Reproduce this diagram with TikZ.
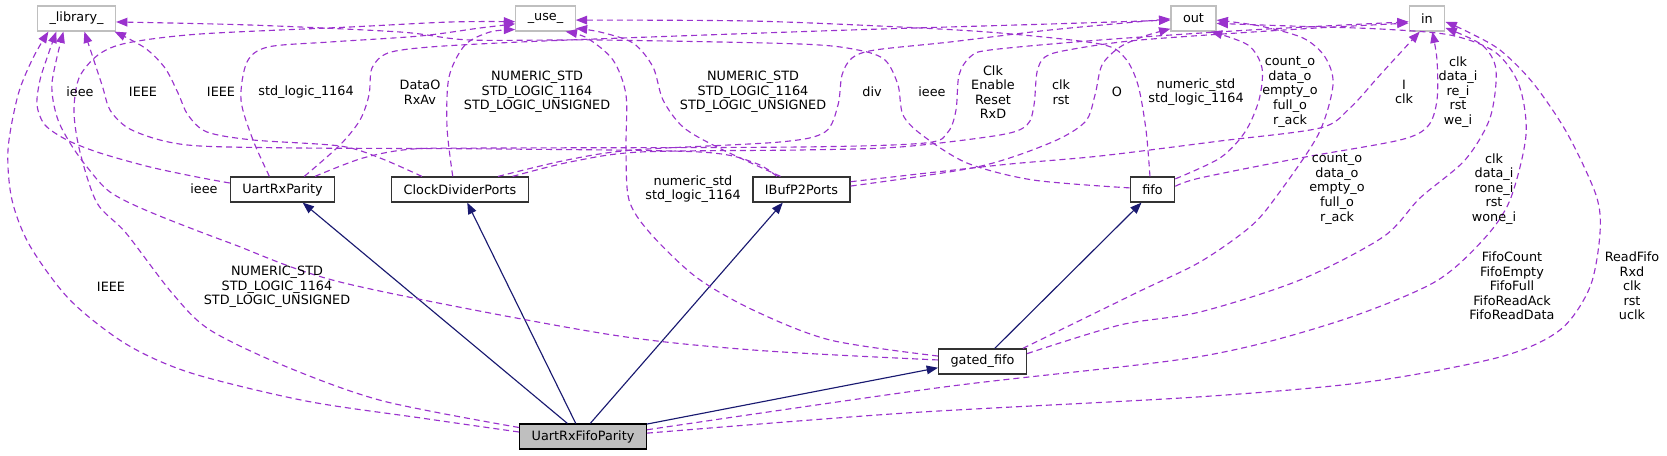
\documentclass[tikz,border=0pt]{standalone}
\usepackage{fontspec}
\setmainfont{DejaVu Sans}
\usetikzlibrary{arrows.meta}
\definecolor{orchid}{HTML}{9A32CD}
\definecolor{navyline}{HTML}{191970}
\definecolor{boxgray}{HTML}{BFBFBF}
\begin{document}
\begin{tikzpicture}[x = 0.75pt, y = -0.75pt,
  every node/.style = {font = \fontsize{9.6}{10.9}\selectfont},
  extbox/.style = {draw = boxgray, line width = 0.9pt, fill = white, minimum height = 18.75pt, inner xsep = 9pt, inner ysep = 0pt},
  classbox/.style = {draw = black!80, line width = 0.9pt, fill = white, minimum height = 18.75pt, inner xsep = 9pt, inner ysep = 0pt},
  lbl/.style = {align = center, inner sep = 0pt},
  dep/.style = {orchid, dash pattern = on 4.5pt off 3pt, line width = 0.85pt, -{Triangle[length = 8.5pt, width = 6.5pt]}},
  inh/.style = {navyline, line width = 0.85pt, -{Triangle[length = 8.5pt, width = 6.5pt]}}]
\useasboundingbox (0,0) rectangle (1667,456);
\node [extbox] (lib) at (76.5,18.5) {\_library\_};
\node [extbox] (use) at (545.5,18.5) {\_use\_};
\node [extbox] (outp) at (1193.5,18.5) {out};
\node [extbox] (inp) at (1427,18.5) {in};
\node [classbox] (urp) at (282.5,189.5) {UartRxParity};
\node [classbox] (cdp) at (460,189.5) {ClockDividerPorts};
\node [classbox] (ibuf) at (801.5,189.5) {IBufP2Ports};
\node [classbox] (fifo) at (1152.5,189.5) {fifo};
\node [classbox] (gfifo) at (982.5,361.5) {gated\_fifo};
\node [classbox, fill = boxgray, draw = black] (ufp) at (583,436.5) {UartRxFifoParity};
\draw [inh] (ufp.140) -- (urp.327);
\draw [inh] (ufp.119) -- (cdp.299);
\draw [inh] (ufp.61) -- (ibuf.215);
\draw [inh] (ufp.11) -- (gfifo.188);
\draw [inh] (gfifo.47) -- (fifo.230);
\draw [dep] plot [smooth] coordinates {(ufp.176) (421,418) (306,401) (191,373) (126,344) (70,300) (30,246) (12,200) (8,150) (18,95) (33,58) (lib.205)};
\draw [dep] plot [smooth] coordinates {(ufp.172) (383,401) (287,367) (210,330) (172,293) (126,233) (97,203) (80,152) (74,112) (79,78) (98,55) (127,43) (200,34) (350,27) (450,22) (use.186)};
\draw [dep] plot [smooth] coordinates {(gfifo.178) (753,350) (600,333) (344,283) (230,243) (150,212) (110,192) (87,167) (70,143) (57,117) (52,83) (lib.225)};
\draw [dep] plot [smooth] coordinates {(urp.173) (197,177) (150,167) (100,153) (67,140) (45,125) (37,105) (40,80) (48,55) (lib.213)};
\draw [dep] plot [smooth] coordinates {(cdp.161) (380,158) (340,146) (253,140) (207,132) (188,115) (178,93) (165,68) (145,48) (lib.341)};
\draw [dep] plot [smooth] coordinates {(ibuf.152) (755,163) (700,152) (500,149) (300,148) (200,146) (160,140) (128,128) (110,110) (102,85) (lib.301)};
\draw [dep] plot [smooth] coordinates {(fifo.176) (1033,180) (967,163) (922,135) (903,115) (898,85) (885,60) (858,50) (800,44) (600,40) (470,40) (400,32) (250,25) (lib.355)};
\draw [dep] plot [smooth] coordinates {(urp.135) (253,140) (241,100) (247,62) (268,47) (330,42) (420,36) (480,28) (use.190)};
\draw [dep] plot [smooth] coordinates {(cdp.119) (447,127) (449,77) (465,45) (490,32) (use.200)};
\draw [dep] plot [smooth] coordinates {(ibuf.148) (717,147) (683,127) (663,100) (653,67) (633,43) (600,32) (use.342)};
\draw [dep] plot [smooth] coordinates {(gfifo.173) (830,340) (753,310) (696,277) (650,233) (629,200) (626,150) (626,95) (613,60) (587,38) (use.327)};
\draw [dep] plot [smooth] coordinates {(fifo.101) (1146,130) (1138,85) (1125,58) (1100,44) (1000,33) (900,27) (750,21) (use.357)};
\draw [dep] plot [smooth] coordinates {(urp.31) (340,145) (360,120) (369,95) (372,68) (388,53) (430,47) (520,42) (650,37) (850,30) (1050,24) (outp.184)};
\draw [dep] plot [smooth] coordinates {(cdp.19) (567,160) (633,150) (780,142) (825,132) (838,105) (842,75) (852,58) (875,50) (950,42) (1050,30) (outp.181)};
\draw [dep] plot [smooth] coordinates {(ibuf.4) (977,167) (1050,143) (1085,122) (1095,95) (1102,65) (1120,47) (1145,36) (outp.204)};
\draw [dep] plot [smooth] coordinates {(fifo.25) (1220,158) (1245,132) (1259,100) (1262,68) (1248,45) (outp.323)};
\draw [dep] plot [smooth] coordinates {(gfifo.18) (1136,293) (1200,262) (1250,227) (1276,197) (1318,135) (1333,85) (1325,57) (1303,38) (1260,26) (outp.356)};
\draw [dep] plot [smooth] coordinates {(ufp.6) (944,387) (1197,357) (1333,323) (1433,283) (1483,240) (1510,200) (1526,135) (1519,85) (1495,52) (1450,35) (1380,29) (1290,26) (outp.348)};
\draw [dep] plot [smooth] coordinates {(urp.22) (363,158) (413,149) (500,148) (800,147) (925,143) (948,132) (956,110) (959,75) (970,57) (990,50) (1100,40) (1250,30) (inp.190)};
\draw [dep] plot [smooth] coordinates {(cdp.14) (570,162) (640,152) (800,150) (900,147) (1000,135) (1027,125) (1034,105) (1037,72) (1045,57) (1068,50) (1140,40) (1300,29) (inp.194)};
\draw [dep] plot [smooth] coordinates {(ibuf.9) (1000,165) (1100,156) (1220,141) (1320,128) (1350,108) (1380,75) (inp.241)};
\draw [dep] plot [smooth] coordinates {(fifo.8) (1200,178) (1300,158) (1400,140) (1428,126) (1437,100) (1437,60) (inp.292)};
\draw [dep] plot [smooth] coordinates {(gfifo.10) (1120,325) (1200,312) (1300,280) (1383,237) (1420,198) (1465,160) (1490,118) (1496,70) (1482,45) (inp.333)};
\draw [dep] plot [smooth] coordinates {(ufp.3) (906,413) (1197,397) (1367,382) (1500,357) (1560,330) (1590,287) (1600,233) (1596,195) (1567,133) (1533,83) (1500,50) (1468,32) (inp.350)};
\node [lbl] (l-gf-lib) at (80,92) {ieee};
\node [lbl] (l-ib-lib) at (143,92) {IEEE};
\node [lbl] (l-cd-lib) at (221,92) {IEEE};
\node [lbl] (l-ur-use) at (306,92) {std\_logic\_1164};
\node [lbl] (l-ur-out) at (420,92) {DataO\\RxAv};
\node [lbl] (l-cd-use) at (537,92) {NUMERIC\_STD\\STD\_LOGIC\_1164\\STD\_LOGIC\_UNSIGNED};
\node [lbl] (l-ib-use) at (753,92) {NUMERIC\_STD\\STD\_LOGIC\_1164\\STD\_LOGIC\_UNSIGNED};
\node [lbl] (l-cd-out) at (872,92) {div};
\node [lbl] (l-fi-lib) at (932,92) {ieee};
\node [lbl] (l-ur-in) at (993,92) {Clk\\Enable\\Reset\\RxD};
\node [lbl] (l-cd-in) at (1061,92) {clk\\rst};
\node [lbl] (l-ib-out) at (1117,92) {O};
\node [lbl] (l-fi-use) at (1196,92) {numeric\_std\\std\_logic\_1164};
\node [lbl] (l-fi-out) at (1290,92) {count\_o\\data\_o\\empty\_o\\full\_o\\r\_ack};
\node [lbl] (l-ib-in) at (1404,92) {I\\clk};
\node [lbl] (l-fi-in) at (1458,92) {clk\\data\_i\\re\_i\\rst\\we\_i};
\node [lbl] (l-ur-lib) at (204,189) {ieee};
\node [lbl] (l-gf-use) at (693,189) {numeric\_std\\std\_logic\_1164};
\node [lbl] (l-gf-out) at (1337,189) {count\_o\\data\_o\\empty\_o\\full\_o\\r\_ack};
\node [lbl] (l-gf-in) at (1494,189) {clk\\data\_i\\rone\_i\\rst\\wone\_i};
\node [lbl] (l-uf-lib) at (111,287) {IEEE};
\node [lbl] (l-uf-use) at (277,287) {NUMERIC\_STD\\STD\_LOGIC\_1164\\STD\_LOGIC\_UNSIGNED};
\node [lbl] (l-uf-out) at (1512,286) {FifoCount\\FifoEmpty\\FifoFull\\FifoReadAck\\FifoReadData};
\node [lbl] (l-uf-in) at (1632,286) {ReadFifo\\Rxd\\clk\\rst\\uclk};
\end{tikzpicture}
\end{document}
